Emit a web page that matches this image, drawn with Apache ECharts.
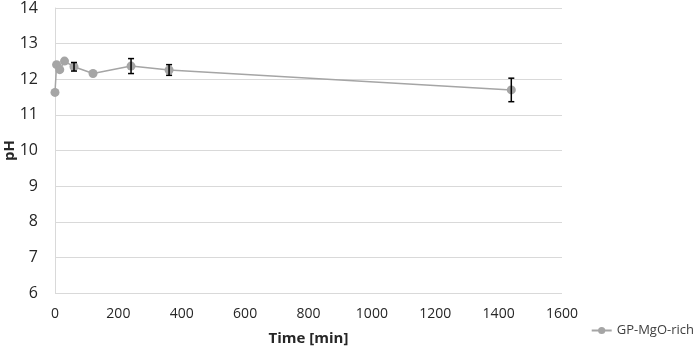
<!DOCTYPE html>
<html>
<head>
<meta charset="utf-8">
<script src="https://cdn.jsdelivr.net/npm/echarts@6/dist/echarts.min.js"></script>
<style>
  html, body { margin: 0; padding: 0; background: #fff; }
  #chart { width: 699px; height: 349px; }
</style>
</head>
<body>
<div id="chart"></div>
<script>
// --- data ---
var timeMin = [0, 5, 15, 30, 60, 120, 240, 360, 1440];
var phValues = [11.63, 12.41, 12.27, 12.51, 12.35, 12.16, 12.37, 12.26, 11.70];
var phError = [0, 0, 0, 0, 0.12, 0, 0.21, 0.15, 0.33];
var seriesName = 'GP-MgO-rich';

var lineData = timeMin.map(function (t, i) { return [t, phValues[i]]; });
var errData = [];
timeMin.forEach(function (t, i) {
    if (phError[i] > 0) errData.push([t, phValues[i] - phError[i], phValues[i] + phError[i]]);
});

var font = '"Open Sans", "Liberation Sans", sans-serif';
var chart = echarts.init(document.getElementById('chart'));

chart.setOption({
    animation: false,
    grid: { left: 55, right: 137, top: 8, bottom: 56, outerBoundsMode: 'none', containLabel: false },
    legend: {
        data: [seriesName],
        right: 0, bottom: 7,
        itemWidth: 20, itemHeight: 9, itemGap: 4,
        textStyle: { color: '#404040', fontSize: 13, fontFamily: font }
    },
    xAxis: {
        type: 'value', min: 0, max: 1600, interval: 200,
        name: 'Time [min]', nameLocation: 'middle', nameGap: 38, nameMoveOverlap: false,
        nameTextStyle: { color: '#262626', fontSize: 15, fontWeight: 'bold', fontFamily: font },
        axisLine: { show: false },
        axisTick: { show: false },
        splitLine: { show: false },
        axisLabel: { color: '#262626', fontSize: 14, fontFamily: font, margin: 14,
            formatter: function (v) { return String(v); } }
    },
    yAxis: {
        type: 'value', min: 6, max: 14, interval: 1,
        name: 'pH', nameLocation: 'middle', nameGap: 38, nameMoveOverlap: false,
        nameTextStyle: { color: '#262626', fontSize: 15, fontWeight: 'bold', fontFamily: font },
        axisLine: { show: true, lineStyle: { color: '#d9d9d9', width: 1 } },
        axisTick: { show: false },
        splitLine: { lineStyle: { color: '#d9d9d9', width: 1 } },
        axisLabel: { color: '#262626', fontSize: 16, fontFamily: font, margin: 17 }
    },
    series: [
        {
            name: seriesName,
            type: 'line',
            data: lineData,
            symbol: 'circle', symbolSize: 9,
            lineStyle: { color: '#a5a5a5', width: 1.5 },
            itemStyle: { color: '#a5a5a5' },
            z: 2
        },
        {
            type: 'custom',
            data: errData,
            z: 3,
            renderItem: function (params, api) {
                var x = api.value(0);
                var lo = api.coord([x, api.value(1)]);
                var hi = api.coord([x, api.value(2)]);
                var cap = 3;
                var style = { stroke: '#000', lineWidth: 1.5 };
                return {
                    type: 'group',
                    children: [
                        { type: 'line', shape: { x1: lo[0], y1: lo[1], x2: hi[0], y2: hi[1] }, style: style },
                        { type: 'line', shape: { x1: lo[0] - cap, y1: lo[1], x2: lo[0] + cap, y2: lo[1] }, style: style },
                        { type: 'line', shape: { x1: hi[0] - cap, y1: hi[1], x2: hi[0] + cap, y2: hi[1] }, style: style }
                    ]
                };
            }
        }
    ]
});
</script>
</body>
</html>
